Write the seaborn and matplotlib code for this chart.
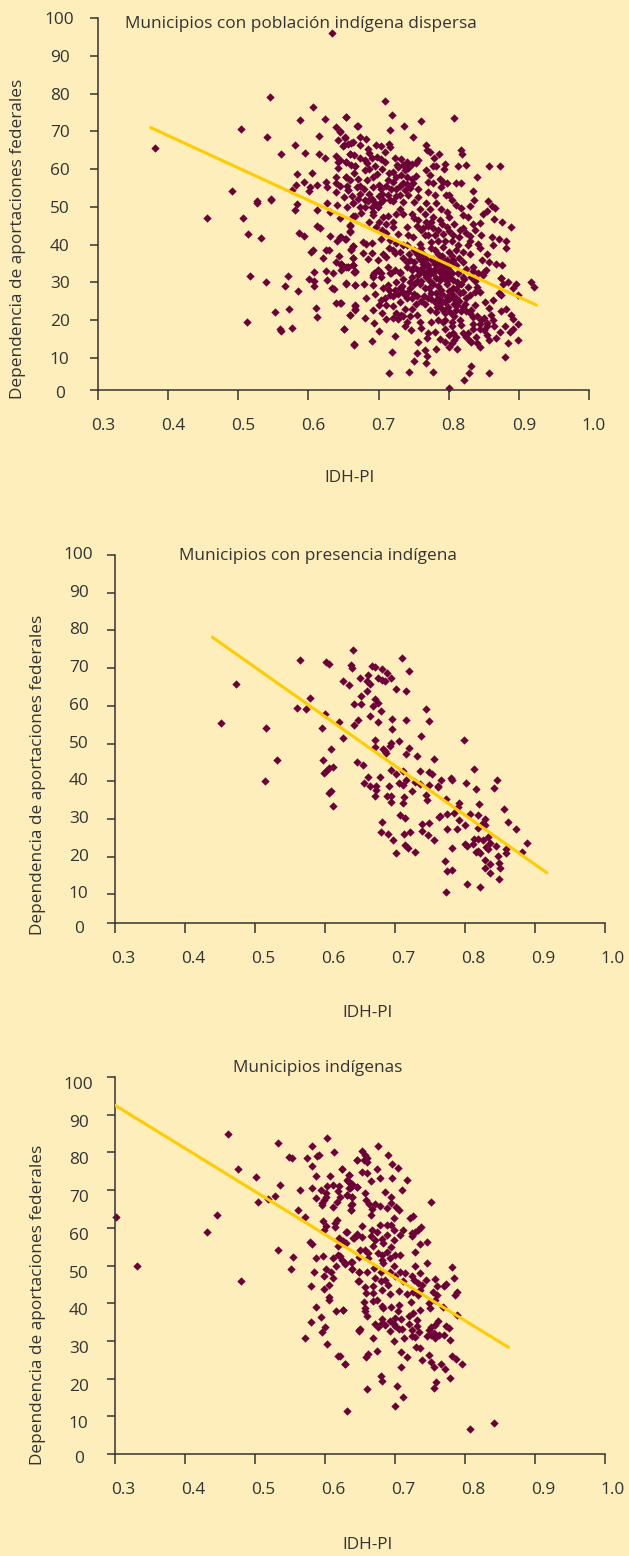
import numpy as np
import pandas as pd
import matplotlib
matplotlib.use("Agg")
import matplotlib.pyplot as plt
from matplotlib.transforms import ScaledTranslation
import seaborn as sns

points_dispersa = [
(.634,96.1),(.545,79),(.606,76.4),(.623,73.3),(.653,73.8),(.588,73.1),(.504,70.7),(.541,68.5),(.669,71.5),(.639,71.2),(.645,70),(.615,68.8),(.652,68.5),(.581,66.4),(.642,67.7),(.381,65.6),(.649,66.2),(.661,67),(.595,64.2),(.615,64),(.623,63),(.561,64),(.64,63.4),(.659,63.9),(.642,62),(.654,62),(.666,60.9),(.584,58.8),(.605,58.9),(.642,60.2),(.654,58),(.64,58),(.593,56.6),(.582,55.8),(.625,56.6),(.64,56.2),(.612,55.8),(.602,55.3),(.626,55.3),(.491,54.3),(.657,54.4),(.64,54),(.601,54.3),(.576,54.4),(.669,55.3),(.547,52),(.526,51.5),
(.526,51.1),(.547,51.8),(.584,50.7),(.581,49.2),(.612,49.2),(.641,50.6),(.627,50.9),(.631,48.7),(.664,51.1),(.664,47.6),(.659,45),(.456,47),(.507,47),(.514,42.9),(.532,41.8),(.587,43),(.593,42.3),(.612,45),(.616,44.3),(.631,42.4),(.659,43.5),(.641,41.1),(.646,42.1),(.653,41.6),(.664,39.6),(.661,38.7),(.606,38.6),(.604,38.1),(.625,38.7),(.629,38.7),(.643,37.1),(.621,36.4),(.664,36.5),(.64,35.4),(.647,34.9),(.664,34.6),(.657,34.1),(.646,33.4),(.635,32.5),(.608,32.8),(.625,33.1),(.666,32.8),(.516,31.8),(.571,31.7),(.54,30.2),(.601,31),(.608,30.4),(.627,30.7),(.566,29),(.608,29.1),(.654,29.8),(.667,29.2),(.633,28.6),(.637,28.2),(.585,27.7),(.639,24.6),(.646,24.6),(.552,22.1),(.572,22.9),(.611,23.2),(.667,23.8),(.666,22.9),(.612,20.8),(.659,21.4),(.513,19.4),(.56,17.8),(.561,17.2),(.576,17.9),(.651,17.6),(.665,13.6),
(.709,78),(.654,73.8),(.719,74.2),(.807,73.6),(.67,71.3),(.736,71.5),(.761,72.7),(.717,70.3),(.645,69.8),(.749,68.5),(.652,68.3),(.673,68.5),(.682,68),
(.664,67.2),(.657,66.7),(.65,66.3),(.674,66.3),(.697,66.3),(.704,66),(.715,66.6),(.717,65.9),(.685,65.4),(.687,64.3),(.709,64.5),(.767,66.3),(.769,65),(.774,64.5),(.817,65),(.819,63.9),(.786,63.9),(.779,63),(.659,64.1),(.665,63.7),(.674,63),(.654,61.9),(.645,62.3),(.698,63.2),(.704,62.8),(.723,63),(.732,62.8),(.74,61.9),(.747,61.3),(.756,62.5),(.753,61.5),(.709,61.9),(.683,61.5),(.666,60.8),(.695,60.8),(.705,59.9),(.68,59.7),(.687,60.1),(.726,61),(.742,60.4),(.737,59.7),(.778,60.8),(.782,60.8),(.794,61.3),(.793,59.9),(.813,60.8),(.825,61.1),(.858,60.9),(.873,60.7),(.84,57.9),(.768,59.7),(.774,58.4),(.721,59.2),(.725,57.9),(.732,58.4),(.747,57.5),(.754,58.1),(.698,58.8),(.692,57.9),(.654,57.9),(.659,57),(.683,57),(.714,57),(.721,56.6),(.735,56.2),(.749,56.2),(.77,56.6),(.778,56.2),(.787,57.5),(.792,56.6),(.798,56.4),(.789,55.3),(.811,56.4),(.818,56.4),(.835,54.3),(.645,55.5),(.657,54.4),(.674,55.5),(.679,54.8),(.692,55.3),(.701,55.7),(.704,54.8),(.718,54.8),(.725,54.8),(.737,54.4),(.756,54.8),(.77,54),(.78,53.1),(.673,53.5),(.687,53.5),(.714,53.1),(.73,53.1),(.742,53.1),(.756,52.5),(.796,53.1),(.801,53.1),(.68,51.8),(.69,52.2),(.716,51.9),(.663,51.1),(.673,50),(.702,50.9),(.699,50),(.706,51.8),(.735,51.3),(.751,51.3),(.768,51),(.782,50.9),(.804,51.8),(.836,51.9),(.831,50.2),(.811,50.4),(.817,49.8),(.856,51.6),(.861,50.2),(.866,49.8),(.854,48.9),(.849,48.2),(.73,49.5),(.759,49.5),(.773,49.5),(.789,49.5),(.797,48.7),(.692,48.7),(.692,47.8),(.666,47.5),(.706,47.3),(.714,47.5),(.725,48.2),(.735,48.2),(.747,48.2),(.766,48.2),(.778,47.3),(.801,47.3),(.82,47.8),(.827,47.3),(.659,45.1),(.687,46),(.697,44.7),(.721,46),(.721,44.7),(.74,44.7),(.756,46.5),(.768,46),(.787,46.5),(.808,45.6),(.835,45.6),(.844,45.8),(.865,46.7),(.876,46),(.889,44.7),(.659,43.4),(.645,42),(.652,41.5),(.728,42.9),(.742,42.5),(.763,44.3),(.778,44.3),(.797,44.7),(.816,43.8),(.837,43.8),(.846,42.5),(.831,42.2),(.861,42),(.871,41.6),(.704,41.6),(.716,41.2),(.749,42),(.766,42.5),(.792,42.9),(.806,42.5),(.678,40.7),(.682,40.3),(.691,40.4),(.664,39.7),(.661,38.8),(.74,39.8),(.759,40.3),(.775,40.7),(.792,39.4),(.813,39.8),(.827,39.8),(.842,40.3),(.844,39),(.863,39.8),(.881,41),(.881,39),(.678,37.9),(.685,36.3),(.691,37.9),(.706,37.6),(.724,37.8),(.711,36.8),(.744,37.6),(.763,37.6),(.811,38.5),(.83,37.6),(.854,37.6),(.847,36),(.664,36.5),(.699,36),(.714,34.1),(.647,34.6),(.657,34.1),(.664,34.6),(.666,33),(.74,35.4),(.778,36.3),(.797,35.9),(.82,35.4),(.835,34.1),(.858,35.4),(.868,35),(.876,34.6),(.699,33.2),(.692,31.9),(.704,31.5),(.718,32.4),(.73,32.8),(.747,33.2),(.763,34.1),(.768,32.4),(.787,32.8),(.801,31.5),(.851,32.8),(.875,31.3),
(.654,29.7),(.667,29.3),(.679,29.6),(.692,29.3),(.682,26),(.645,24.6),(.666,24),(.667,22.7),(.692,22.8),(.659,21.4),(.68,20.5),(.694,19.3),(.71,20.3),(.651,17.6),(.701,17.1),(.69,14.6),(.665,13.5),(.723,15.7),(.719,11.5),(.737,18.4),(.746,17.5),(.751,9.3),(.767,8.7),(.715,5.9),(.744,6.3),(.777,6.4),(.832,7.9),(.829,6.1),(.858,5.9),(.822,4.1),(.88,10.2),(.801,2),(.844,13),(.812,12.5),(.782,12.5),(.756,14.3),(.755,11.2),(.766,12.1),(.769,10.5),(.787,14.9),(.794,14.3),(.804,13.9),(.8,12.8),(.808,14.7),(.769,15.2),(.759,19.6),(.77,16.5),(.78,17),(.794,17.8),(.806,16.5),(.825,15.6),(.832,14.3),(.839,15.6),(.858,14.7),(.868,15.4),(.884,14.1),(.899,14.7),(.899,18.9),(.892,17.6),(.887,17),(.873,17),(.88,18.4),(.889,21.4),(.891,20.2),(.882,23.1),(.875,22.5),(.863,25.3),(.858,23.3),(.852,24.7),(.863,20),(.854,19.2),(.846,20),(.844,17.8),(.835,17.8),(.827,16.5),(.835,20.9),(.837,24),(.832,22.7),(.918,30.2),(.922,28.9),(.896,29.7),(.891,28.4),(.899,26.7),(.884,30.2),(.875,31.3),(.877,29.7),(.875,26.6),(.872,27.1),(.853,33.3),(.849,32),(.842,32.4),(.832,31.5),(.844,27.5),(.837,27.5),(.83,26.6),(.818,29.7),(.816,27.1),(.823,24.4),(.811,22.7),(.816,20),(.818,18.7),(.804,19.6),(.792,19.6),(.794,21.8),(.782,22.2),(.773,22.7),(.766,24.4),(.754,24.4),(.747,25.8),(.742,27.5),(.737,26.6),(.73,24.9),(.737,23.1),(.732,21.4),(.728,20.2),(.747,23.1),(.714,29.3),(.723,28),(.73,28.4),(.706,28.4),(.716,26.6),(.709,25.8),(.704,25.3),(.711,24),(.721,23.8),(.699,33.3),(.694,32.4),(.704,32.4),(.692,31.5),(.716,32.4),(.723,33.3),(.73,32.4),(.74,34.1),(.747,31.5),(.756,33.3),(.759,29.7),(.766,28.4),(.775,27.1),(.782,27.1),(.789,28),(.797,26.2),(.806,25.8),(.787,24.4),(.799,23.6),(.808,24.4),(.778,32.4),(.787,33.3),(.797,32.4),(.77,34.6),(.78,35),(.792,34.6),(.801,33.3),(.768,31.5),(.806,30.6),(.813,32.4),(.82,31.5),(.787,30.6),(.778,29.7),(.797,29.7),(.806,28.4),(.751,34.1),(.761,35.9),(.756,32),(.647,35),(.654,34.1),(.664,34.6),(.665,32.8),
(.757,36.5),(.763,35),(.768,36.2),(.772,33.5),(.776,36),(.779,33.4),(.783,34.5),(.786,36),(.789,35.2),(.792,33),(.795,35.8),(.798,34),(.803,35),(.806,36),(.81,34.5),(.77,31.8),(.775,33),(.782,31.3),(.79,31.8),(.8,31),(.805,32.5),(.76,33),(.765,32.5),(.76,30.5),(.773,30.3),(.785,29),(.795,30.8),(.812,30),(.825,33.5),(.835,33),(.838,30.5),(.84,28.9),(.828,28.8),(.822,31),(.815,29.5),
(.775,25.5),(.78,24.8),(.785,26),(.79,25),(.795,24.9),(.8,25.5),(.805,27),(.81,26),(.815,25),(.82,23.5),(.825,22.5),(.83,22),(.783,23.6),(.79,23),(.797,22.6),(.803,21.8),(.808,21),(.812,24),(.818,22.5),(.825,26),(.77,26),(.76,25),(.755,26.5),(.75,27),(.765,26.5),(.772,28.5),(.79,27),(.8,27.8),(.81,28.3),(.82,27.5),(.845,19),(.85,20.5),(.855,18.5),(.86,21.5),(.865,18.5),(.85,17.5),(.84,21),(.835,19),
(.715,28),(.72,26.5),(.727,27),(.733,29),(.735,27.5),(.74,26),(.745,28.5),(.75,29.5),(.755,30.5),(.725,30),(.735,31),(.745,30.2),
(.75,47),(.755,45),(.76,44),(.77,45),(.775,46),(.78,42.5),(.785,44),(.79,45.5),(.795,41),(.8,43.5),(.805,41),(.815,42),(.82,44.5),(.825,43),(.83,41),(.785,41),(.77,42.5),(.775,39),(.78,38.5),(.785,37.5),(.79,37),(.8,38),(.805,37),(.815,36.5),(.82,38),(.76,39),(.755,37.5),(.75,38.5),(.745,36),(.75,35.5),(.735,36.5),(.73,38),(.735,40),(.725,40.5),(.72,38.5),(.715,39),(.71,43),(.705,44),(.7,46),(.71,45.5),
(.72,51.5),(.725,53),(.73,55.5),(.74,56),(.745,55),(.71,55.5),(.7,53),(.695,51),(.685,51.5),(.68,50),(.675,48.5),(.69,50),(.705,53.5),(.715,59),(.728,60.5),(.735,61),(.74,58),(.68,62.5),(.69,63),(.665,59),(.66,61),(.67,57.5),(.655,55.5),(.662,53),(.67,52),(.65,52.5),(.655,50),(.645,47),
(.7,24),(.705,22),(.695,27),(.725,22),(.72,20.5),(.735,21),(.74,19.5),(.745,21),(.755,21.5),(.76,18),(.775,19.5),(.785,20),(.795,20),(.805,18.5),(.8,16),(.81,15.5),(.82,16.5),(.83,14.5),(.84,13.9),(.855,16),
]
points_presencia = [
(.64,74.8),(.565,72.1),(.602,71.5),(.606,71.1),(.637,70.7),(.639,70),(.667,70.5),(.672,70.2),(.71,72.6),(.681,69.7),(.689,68.6),(.72,69.1),(.662,68.1),(.65,67.5),(.676,67.3),(.682,66.9),(.685,66.5),(.694,67.3),(.625,66.6),(.634,65.4),(.66,66.5),(.664,65.8),(.473,65.7),(.702,64.5),(.716,64),(.66,63.8),(.652,62.5),(.579,62.2),(.672,61.9),(.675,60.8),(.642,60.5),(.651,60.5),(.668,59.9),(.56,59.4),(.573,59.1),(.68,58.7),(.744,59.2),(.6,57.8),(.664,57.2),(.696,56.5),(.715,56.2),(.749,56.1),(.675,55.8),(.647,56.3),(.642,55),(.62,55.7),(.596,54.2),(.515,54.1),(.451,55.5),(.696,53.9),(.626,51.4),(.737,52),(.672,51),(.705,50.6),(.694,50.1),(.693,49.4),(.672,49.1),(.609,48.5),(.72,48.7),(.683,48.5),(.685,47.9),(.687,47.4),(.715,47.3),(.732,46.8),(.756,45.9),(.531,45.7),(.597,45.6),(.645,45.1),(.654,44.2),(.612,43.9),(.605,43.4),(.601,42.6),(.599,42.1),(.695,43.1),(.712,42.7),(.736,42.7),(.749,42.4),(.753,41.8),(.701,41.8),(.661,41.1),(.678,41.2),(.514,40.1),(.715,40.4),(.655,39.5),(.705,39.5),(.712,39),(.729,39.9),(.736,39.3),(.664,38.8),(.673,38.8),(.691,38.8),(.748,38.9),(.762,38.4),(.673,37.7),(.608,37.5),(.605,37),(.724,37.4),(.672,36.2),(.688,36.2),(.695,36.2),(.744,36.4),(.713,35.7),(.746,34.9),(.695,34.5),(.712,34.2),(.612,33.4),(.707,31),(.714,30.3),(.763,30.6),(.682,29.1),(.738,28.7),(.748,28.8),(.739,26.7),(.68,26.5),(.69,25.9),(.713,26),(.721,26.4),(.747,25.6),(.697,24.5),(.756,24.4),(.714,23),(.718,22.4),(.728,21.2),(.701,21),
(.766,40.2),(.762,38.6),(.78,40.8),(.782,40.4),(.802,39.4),(.813,43.3),(.798,50.9),(.816,38),(.845,40.2),(.841,38.1),(.773,35.2),(.792,34.1),(.79,33.1),(.82,33.9),(.855,32.5),(.764,30.7),(.774,31.2),(.784,31.5),(.807,31.3),(.818,31),(.792,29.6),(.829,29.9),(.826,28.8),(.829,28.4),(.8,28.5),(.774,27.4),(.789,27.4),(.819,27.5),(.862,29.2),(.873,27.2),(.833,25.3),(.813,24.8),(.818,24.7),(.825,24.4),(.835,23.5),(.8,23.3),(.803,22.7),(.812,23.4),(.83,22.6),(.833,21.9),(.844,22.8),(.888,23.7),(.858,21.9),(.859,21),(.881,21.2),(.781,22.3),(.816,21.3),(.821,20.9),(.818,21.6),(.847,20.2),(.772,18.8),(.829,19.2),(.848,18.4),(.836,18.1),(.85,16.9),(.829,17),(.774,16.1),(.782,16.4),(.836,15.6),(.849,14),(.803,12.8),(.821,12),(.773,10.6),
]
points_indigenas = [
(.462,84.8),(.533,82.5),(.603,83.7),(.581,81.8),(.613,80.2),(.591,79.4),(.588,79),(.549,78.9),(.553,78.6),(.575,78.4),(.645,77.9),(.582,76.3),(.624,75.7),(.475,75.6),(.501,73.6),(.587,73.7),(.607,73.7),(.634,74.1),(.632,72.8),(.535,71.4),(.611,71.4),(.603,71.2),(.62,71.2),(.636,71.9),(.639,71),(.646,70.7),(.634,70.6),(.581,70.5),(.594,69.9),(.564,69.9),(.602,69.2),(.618,69.7),(.621,68.3),(.529,68.5),(.631,68.7),(.638,68.3),(.587,67.9),(.602,68.2),(.599,67.5),(.519,67.6),(.596,66.6),(.504,66.8),(.617,66.8),(.612,65.5),(.638,66.2),(.595,66),(.562,64.6),(.637,64.7),(.445,63.4),(.301,62.9),(.571,62.9),(.617,62.2),(.614,61.3),(.597,61.7),(.602,60.6),(.614,60.2),(.432,59),(.63,59),(.599,59.3),(.645,58.2),(.641,57.3),(.579,56.3),(.582,55.6),(.62,57.3),(.626,56.4),(.63,56),(.618,55.3),(.533,54),(.554,52.3),(.331,49.9),(.597,52.4),(.587,51.9),(.612,51.9),(.619,52.9),(.624,51.5),(.628,50.5),(.637,50.9),(.615,50),(.551,49),(.584,48.4),(.601,49.1),(.638,49.2),(.609,48.3),(.649,48.2),(.598,47.1),(.611,46.8),(.48,45.9),(.647,45.8),(.58,44.6),(.605,44.9),(.599,43.8),(.606,41.6),(.605,40.9),(.587,39.1),(.594,36.4),(.615,38),(.626,38.2),(.58,35),(.6,33.8),(.596,32.3),(.648,32.8),(.571,30.9),(.603,29.1),(.619,26),(.629,23.8),(.631,11.4),
(.675,81.7),(.653,80.3),(.657,79.4),(.66,78.5),(.656,78.1),(.66,77.4),(.646,77.9),(.69,79.2),(.696,77),(.704,75.8),(.624,75.7),(.674,75.7),(.653,74.7),(.66,74.5),(.634,74.1),(.678,73.3),(.696,73.2),(.666,72.3),(.717,72.8),(.633,72.3),(.638,71.7),(.636,70.6),(.646,70.8),(.71,69.9),(.657,69.2),(.686,69.5),(.632,68.7),(.638,68.3),(.694,68.2),(.751,66.8),(.659,67.3),(.663,66.4),(.672,66.3),(.679,65.7),(.637,66.1),(.667,65),(.688,65.2),(.695,66.6),(.702,65.5),(.706,64.6),(.637,64.6),(.666,63.5),(.725,63),(.721,62.6),(.698,62.6),(.679,60.8),(.688,60.8),(.695,60.8),(.653,60.4),(.737,60.2),(.733,59.5),(.729,59),(.712,59.3),(.707,58.2),(.724,58.6),(.724,57.7),(.667,59.5),(.674,59),(.631,59),(.699,59.3),(.665,57.9),(.645,58.4),(.64,57.3),(.653,57.5),(.688,58.2),(.698,56.7),(.671,56.8),(.681,57.1),(.745,56.2),(.735,55.8),(.669,55.1),(.683,56),(.629,56),(.695,54.9),(.728,53.5),(.65,54.2),(.657,54.2),(.662,53.3),(.648,52.2),(.662,52),(.675,53.3),(.681,52.9),(.688,53.7),(.7,52.9),(.707,52.7),(.693,52),(.681,51.5),(.683,50.6),(.621,52.4),(.629,50.6),(.638,50.8),(.638,49),(.649,48.2),(.66,48.4),(.67,49.3),(.68,48.2),(.699,50),(.728,49.9),(.745,50.6),(.781,49.7),(.693,48.4),(.707,48.4),(.714,48),(.736,48),(.784,46.8),(.757,46.4),(.648,45.8),(.671,46.8),(.68,45.8),(.686,46.2),(.69,44.9),(.7,47.1),(.712,45.8),(.724,47.1),(.727,46.2),(.733,45.3),(.744,46.2),(.738,44.7),(.76,44.5),(.773,45.2),(.77,44.5),(.657,44.2),(.668,44.5),(.682,43.4),(.658,42.7),(.668,42.7),(.693,42.5),(.706,43.3),(.717,42.5),(.725,43.1),(.733,42.2),(.736,43.6),(.754,42.9),(.76,42.2),(.788,42.9),(.786,42.1),(.668,40.5),(.674,40.9),(.656,40.3),(.723,40.2),(.748,40),(.757,40.9),(.626,38.3),(.657,38.7),(.681,39.3),(.683,38.7),(.694,38.9),(.706,39.5),(.736,38.3),(.75,38.7),(.768,39),(.657,37.8),(.704,37.8),(.726,37.4),(.66,36.5),(.788,36.8),(.72,36.5),(.682,35.9),(.709,35.9),(.7,36),(.731,35.6),(.671,34.5),(.681,34.7),(.693,35.2),(.698,34.5),(.72,34.5),(.762,35.3),(.757,34.3),(.676,33.7),(.686,34.3),(.7,34),(.731,34),(.752,33.8),(.773,34),(.777,33.4),(.65,33.1),(.648,32.6),(.693,32.7),(.705,33.1),(.71,33.1),(.724,32.8),(.734,32.3),(.748,32.8),(.755,32.1),(.745,31.4),(.752,31.6),(.724,31.4),(.729,31),(.757,30.7),(.763,31.6),(.77,31.6),(.778,30.3),(.669,30.9),(.713,30.7),(.698,30),(.73,28.5),(.736,28.1),(.662,26.5),(.659,25.6),(.674,27.2),(.708,27),(.717,25.8),(.621,26),(.629,23.9),(.748,26.2),(.738,25),(.752,24.5),(.755,23),(.765,23.8),(.772,22.5),(.781,26),(.787,25.3),(.795,23.9),(.709,23.2),(.68,20.6),(.682,19.4),(.778,20.2),(.758,19),(.756,17.5),(.703,18),(.66,17.3),(.711,15.2),(.7,12.6),(.807,6.5),(.842,8.3),
]
line_dispersa_x = [.375, .925]
line_dispersa_y = [71, 24]
line_presencia_x = [.439, .917]
line_presencia_y = [78.2, 15.7]
line_indigenas_x = [.30, .862]
line_indigenas_y = [92.5, 28.3]
x_ticks = [.3, .4, .5, .6, .7, .8, .9, 1.0]
x_tick_labels = ["0.3", "0.4", "0.5", "0.6", "0.7", "0.8", "0.9", "1.0"]
y_ticks = [10, 20, 30, 40, 50, 60, 70, 80, 90, 100]
y_tick_labels = ["0", "10", "20", "30", "40", "50", "60", "70", "80", "90", "100"]
titles = ["Municipios con población indígena dispersa",
          "Municipios con presencia indígena", "Municipios indígenas"]
x_label = "IDH-PI"
y_label = "Dependencia de aportaciones federales"

W, H = 629, 1556
BG = "#fdeebc"
INK = "#333333"
MARK = "#6e0038"
GOLD = "#ffcc00"

sns.set_theme(style="white", rc={"figure.facecolor": BG, "axes.facecolor": "none",
                                 "savefig.facecolor": BG})
plt.rcParams["font.family"] = ["Open Sans", "DejaVu Sans"]
FS = 12.4

fig = plt.figure(figsize=(W / 100, H / 100), dpi=100)

panels = [
    dict(box=(98, 589, 18, 390), ybase=1.53, pts=points_dispersa,
         lx=line_dispersa_x, ly=line_dispersa_y, title=titles[0], tx=301, ty=24,
         xlx=350, xly=478, ylx=18, yly=239, lab_dx=5, lab_dy=0, zero_dy=2, ylab_off=38),
    dict(box=(115, 605, 555, 923), ybase=2.39, pts=points_presencia,
         lx=line_presencia_x, ly=line_presencia_y, title=titles[1], tx=317.5, ty=556,
         xlx=368, xly=1013, ylx=38, yly=775, lab_dx=8, lab_dy=-2, zero_dy=4, ylab_off=36),
    dict(box=(115, 605, 1077, 1454), ybase=0, pts=points_indigenas,
         lx=line_indigenas_x, ly=line_indigenas_y, title=titles[2], tx=317.5, ty=1068,
         xlx=368, xly=1545, ylx=38, yly=1305, lab_dx=8, lab_dy=6, zero_dy=3, ylab_off=36),
]

for p in panels:
    l, r, t, b = p["box"]
    ax = fig.add_axes([l / W, 1 - b / H, (r - l) / W, (b - t) / H])
    pts = np.array(p["pts"])
    df = pd.DataFrame({"x": pts[:, 0], "y": pts[:, 1]})
    sns.scatterplot(data=df, x="x", y="y", marker="D", s=18, color=MARK,
                    linewidth=0, ax=ax, clip_on=False, zorder=2)
    sns.lineplot(x=p["lx"], y=p["ly"], color=GOLD, linewidth=2.2, ax=ax,
                 errorbar=None, zorder=3)
    ax.set_xlim(.3, 1.0)
    ax.set_ylim(p["ybase"], 100)
    ax.set_xlabel("")
    ax.set_ylabel("")
    sns.despine(ax=ax, top=True, right=True)
    for s in ("left", "bottom"):
        ax.spines[s].set_color(INK)
        ax.spines[s].set_linewidth(1.1)
    ax.set_xticks(x_ticks, x_tick_labels)
    ax.set_yticks([p["ybase"]] + y_ticks, y_tick_labels)
    ax.tick_params(axis="x", direction="out", length=7, width=1.1, color=INK,
                   labelcolor=INK, labelsize=FS, pad=13, bottom=True)
    ax.tick_params(axis="y", direction="out", length=6, width=1.1, color=INK,
                   labelcolor=INK, labelsize=FS, pad=(p["ylab_off"] - 8) * .72, left=True)
    for lab in ax.get_xticklabels():
        lab.set_transform(lab.get_transform() +
                          ScaledTranslation(p["lab_dx"] / 100, 0, fig.dpi_scale_trans))
    for i, lab in enumerate(ax.get_yticklabels()):
        dy = p["zero_dy"] if i == 0 else p["lab_dy"]
        lab.set_horizontalalignment("center")
        lab.set_transform(lab.get_transform() +
                          ScaledTranslation(0, -dy / 100, fig.dpi_scale_trans))
    fig.text(p["tx"] / W, 1 - p["ty"] / H, p["title"], ha="center", va="center",
             fontsize=FS, color=INK)
    fig.text(p["xlx"] / W, 1 - p["xly"] / H, x_label, ha="center", va="center",
             fontsize=FS, color=INK)
    fig.text(p["ylx"] / W, 1 - p["yly"] / H, y_label, ha="center", va="center",
             rotation=90, fontsize=FS, color=INK)

fig.savefig("out.png", dpi=100)
